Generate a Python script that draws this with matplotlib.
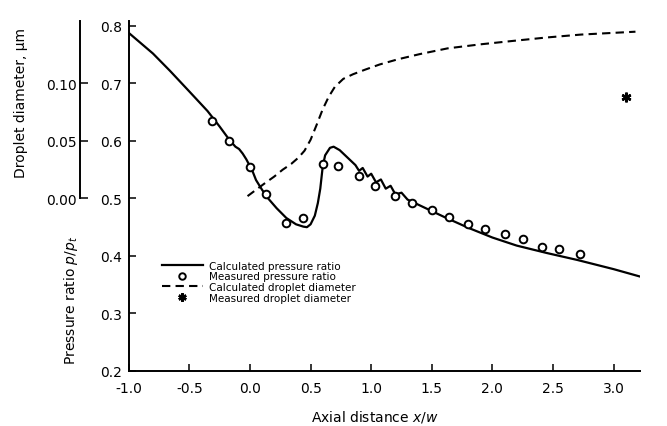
import matplotlib

matplotlib.use("Agg")
import matplotlib.pyplot as plt

# calculated pressure ratio (solid line)
calc_p_x = [-1.0, -0.8, -0.66, -0.5, -0.35, -0.25, -0.17, -0.12, -0.09, -0.06, -0.03,
            0.02, 0.05, 0.1, 0.15, 0.22, 0.3, 0.38, 0.44, 0.47, 0.5, 0.535, 0.56,
            0.58, 0.6, 0.62, 0.66, 0.69, 0.74, 0.8, 0.87, 0.9, 0.93, 0.97, 1.0, 1.04,
            1.08, 1.12, 1.16, 1.2, 1.25, 1.3, 1.4, 1.6, 1.8, 2.0, 2.2, 2.45, 2.7,
            3.0, 3.22]
calc_p_y = [0.788, 0.752, 0.722, 0.686, 0.652, 0.625, 0.602, 0.590, 0.586, 0.578, 0.568,
            0.548, 0.532, 0.515, 0.500, 0.483, 0.466, 0.455, 0.451, 0.450, 0.455, 0.470, 0.492,
            0.517, 0.555, 0.575, 0.588, 0.590, 0.584, 0.572, 0.558, 0.548, 0.553, 0.538, 0.543, 0.528,
            0.533, 0.517, 0.522, 0.507, 0.510, 0.498, 0.488, 0.468, 0.449, 0.432, 0.418, 0.405, 0.393,
            0.377, 0.364]

# measured pressure ratio (circles)
meas_p_x = [-0.31, -0.17, 0.0, 0.13, 0.30, 0.44, 0.60, 0.73, 0.90, 1.03, 1.20,
            1.34, 1.50, 1.64, 1.80, 1.94, 2.10, 2.25, 2.41, 2.55, 2.72]
meas_p_y = [0.635, 0.600, 0.555, 0.508, 0.457, 0.466, 0.560, 0.557, 0.539, 0.522, 0.504,
            0.492, 0.480, 0.468, 0.456, 0.447, 0.438, 0.430, 0.416, 0.412, 0.403]

# calculated droplet diameter, um (dashed line)
calc_d_x = [-0.02, 0.05, 0.12, 0.20, 0.27, 0.34, 0.40, 0.45, 0.50, 0.55, 0.60,
            0.65, 0.70, 0.77, 0.85, 0.95, 1.07, 1.22, 1.40, 1.63, 1.90, 2.17, 2.45,
            2.73, 3.00, 3.18]
calc_d_y = [0.002, 0.0075, 0.013, 0.019, 0.025, 0.030, 0.0355, 0.0415, 0.051, 0.064, 0.0775,
            0.0885, 0.097, 0.104, 0.108, 0.112, 0.1165, 0.121, 0.1255, 0.1305, 0.134, 0.137, 0.140,
            0.1425, 0.144, 0.145]

# measured droplet diameter, um (asterisk)
meas_d_x = [3.1]
meas_d_y = [0.0885]

x_ticks = [-1.0, -0.5, 0.0, 0.5, 1.0, 1.5, 2.0, 2.5, 3.0]
p_ticks = [0.2, 0.3, 0.4, 0.5, 0.6, 0.7, 0.8]
d_ticks = [0.0, 0.05, 0.10]
d_tick_labels = ["0.00", "0.05", "0.10"]

fig = plt.figure(figsize=(6.67, 4.27), dpi=100, facecolor="white")
ax = fig.add_axes([0.193, 0.129, 0.767, 0.820])

ax.plot(calc_p_x, calc_p_y, color="black", lw=1.6, label="Calculated pressure ratio")
ax.plot(meas_p_x, meas_p_y, ls="none", marker="o", ms=5.5, mfc="white", mec="black",
        mew=1.4, label="Measured pressure ratio")

ax.set_xlim(-1.0, 3.22)
ax.set_ylim(0.2, 0.809)
ax.set_xticks(x_ticks)
ax.set_xticklabels([f"{v:.1f}" for v in x_ticks])
ax.set_yticks(p_ticks)
ax.set_yticklabels([f"{v:.1f}" for v in p_ticks])
for side in ["top", "right"]:
    ax.spines[side].set_visible(False)
for side in ["left", "bottom"]:
    ax.spines[side].set_linewidth(1.4)
ax.tick_params(direction="in", length=5, width=1.1, labelsize=10)
ax.tick_params(axis="x", pad=7)
ax.tick_params(axis="y", pad=5)

# droplet diameter axis: d = (p - 0.5) / 2
ax2 = ax.twinx()
ax2.set_ylim((0.2 - 0.5) / 2, (0.809 - 0.5) / 2)
ax2.plot(calc_d_x, calc_d_y, color="black", lw=1.5, dashes=(4, 2.5),
         label="Calculated droplet diameter")
ax2.plot(meas_d_x, meas_d_y, ls="none", marker=(6, 2, 0), ms=7, mec="black", mew=1.8,
         color="black", label="Measured droplet diameter")
ax2.yaxis.set_ticks_position("left")
for side in ["top", "right", "bottom"]:
    ax2.spines[side].set_visible(False)
ax2.spines["left"].set_visible(True)
ax2.spines["left"].set_position(("axes", -0.096))
ax2.spines["left"].set_bounds(0.0, (0.809 - 0.5) / 2)
ax2.spines["left"].set_linewidth(1.4)
ax2.set_yticks(d_ticks)
ax2.set_yticklabels(d_tick_labels)
ax2.tick_params(axis="y", direction="in", length=6, width=1.1, labelsize=10, pad=2)

h1, l1 = ax.get_legend_handles_labels()
h2, l2 = ax2.get_legend_handles_labels()
handles = [h1[0], h1[1], h2[0], h2[1]]
labels = [l1[0], l1[1], l2[0], l2[1]]
ax2.legend(handles, labels, loc="upper left", bbox_to_anchor=(0.057, 0.326),
           frameon=False, fontsize=7.5, handlelength=3.9, handletextpad=0.6,
           labelspacing=0.05, borderaxespad=0, markerscale=0.85)

fig.text(375 / 667, 1 - 417 / 427, "Axial distance $x/w$", fontsize=10,
         ha="center", va="center")
fig.text(71 / 667, 1 - 300 / 427, r"Pressure ratio $p/p_t$", fontsize=10,
         rotation=90, ha="center", va="center")
fig.text(21 / 667, 1 - 103 / 427, "Droplet diameter, μm", fontsize=10,
         rotation=90, ha="center", va="center")

fig.savefig("out.png", dpi=100, facecolor="white")
